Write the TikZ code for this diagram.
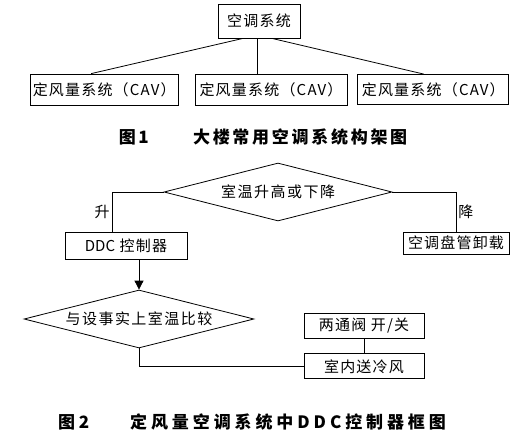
\documentclass[tikz,border=0pt]{standalone}
\usepackage{fontspec}
\setmainfont{Noto Sans CJK SC}
\usepackage{tikz}
\usetikzlibrary{arrows.meta,positioning,shapes.geometric,calc}
\tikzset{
  hvacbox/.style={draw,line width=0.8pt,inner sep=0pt,align=center,font=\fontsize{15}{17}\selectfont\addfontfeatures{LetterSpace=8}},
  hvacdec/.style={draw,diamond,aspect=4,line width=0.8pt,inner sep=0pt,font=\fontsize{15}{17}\selectfont\addfontfeatures{LetterSpace=10}},
  hvacline/.style={line width=0.8pt},
  hvacflow/.style={-{Triangle[length=9pt,width=9pt]},line width=0.8pt},
  hvaclabel/.style={font=\fontsize{15}{17}\selectfont,inner sep=2pt},
  hvaccap/.style={font=\bfseries\fontsize{17}{19}\selectfont\addfontfeatures{LetterSpace=16},inner sep=0pt},
}

\begin{document}
\begin{tikzpicture}[x=1pt,y=-1pt]
\useasboundingbox (0,0) rectangle (531,439);
 % Fig. 1: system tree
\node[hvacbox,minimum width=82pt,minimum height=34pt] (sys) at (259,21) {空调系统};
\node[hvacbox,minimum width=152pt,minimum height=31pt] (cav2) at (271,89.5) {定风量系统（CAV）};
\node[hvacbox,minimum width=148pt,minimum height=31pt,left=16pt of cav2] (cav1) {定风量系统（CAV）};
\node[hvacbox,minimum width=151pt,minimum height=30pt,right=10pt of cav2] (cav3) {定风量系统（CAV）};
\draw[hvacline]($(sys.south)+(-16,0)$)--($(cav1.north)+(-13,0)$);
\draw[hvacline]($(sys.south)+(-2,0)$)--($(cav2.north)+(-14,0)$);
\draw[hvacline]($(sys.south)+(13,0)$)--($(cav3.north)+(-9.5,0)$);
\node[hvaccap] (cap1) at (263,137) {图1\hspace{2.6em}大楼常用空调系统构架图};
 % Fig. 2: DDC control flow
\node[hvacdec,minimum width=228pt,minimum height=58pt] (rise) at (278,192) {室温升高或下降};
\node[hvacbox,minimum width=122pt,minimum height=27pt] (ddc) at (126,245.5) {{\addfontfeatures{LetterSpace=0}DDC} 控制器};
\node[hvacbox,minimum width=106pt,minimum height=22pt] (unload) at (456,243) {空调盘管卸载};
\draw[hvacline](rise.west)-|node[hvaclabel,left,pos=0.75]{升}($(ddc.north)+(-14,0)$);
\draw[hvacline](rise.east)-|node[hvaclabel,right,pos=0.75]{降}(unload.north);
\node[hvacdec,minimum width=230pt,minimum height=58pt] (cmp) at (139,319) {与设事实上室温比较};
\draw[hvacflow]($(ddc.south)+(13,0)$)--(cmp.north);
\node[hvacbox,minimum width=120pt,minimum height=25pt] (valve) at (364,325.5) {两通阀 开/关};
\node[hvacbox,minimum width=120pt,minimum height=25pt,below=15pt of valve] (cool) {室内送冷风};
\draw[hvacline](valve.south)--(cool.north);
\draw[hvacline](cmp.south)|-(cool.west);
\node[hvaccap] (cap2) at (252,422) {\addfontfeatures{LetterSpace=23}图2\hspace{2.4em}定风量空调系统中DDC控制器框图};
\end{tikzpicture}
\end{document}
